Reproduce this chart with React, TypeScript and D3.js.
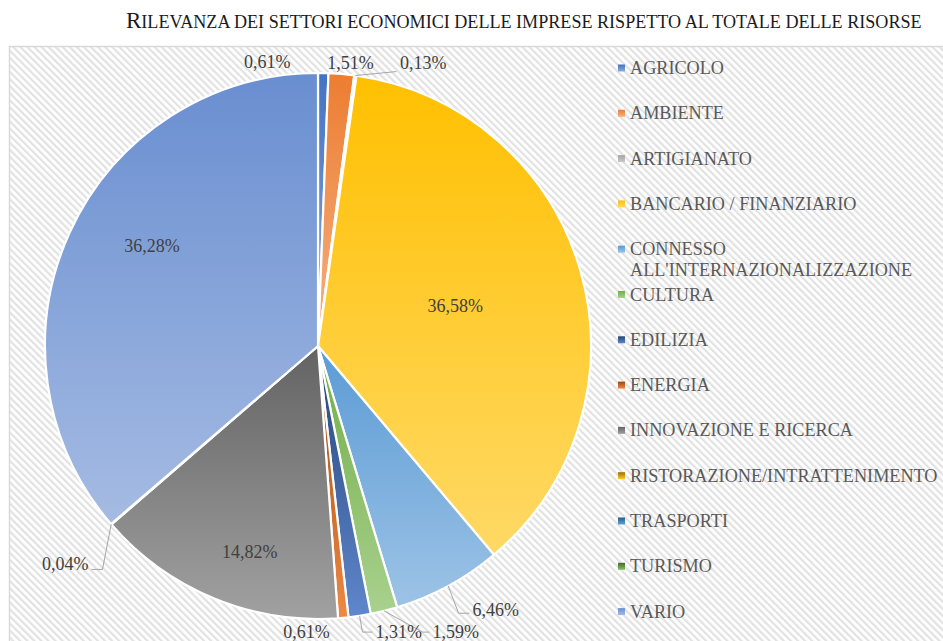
import React, { useRef, useEffect } from "react";
import * as d3 from "d3";

// Settori economici (ordine della legenda = ordine delle fette)
const sectors = [
  "AGRICOLO",
  "AMBIENTE",
  "ARTIGIANATO",
  "BANCARIO / FINANZIARIO",
  "CONNESSO\nALL'INTERNAZIONALIZZAZIONE",
  "CULTURA",
  "EDILIZIA",
  "ENERGIA",
  "INNOVAZIONE E RICERCA",
  "RISTORAZIONE/INTRATTENIMENTO",
  "TRASPORTI",
  "TURISMO",
  "VARIO",
];

// quota percentuale sul totale delle risorse
const shares = [0.61, 1.51, 0.13, 36.58, 6.46, 1.59, 1.31, 0.61, 14.82, 0.04, 0, 0, 36.28];

const colors = [
  "#4472C4", "#ED7D31", "#A5A5A5", "#FFC000", "#5B9BD5", "#70AD47",
  "#264478", "#9E480E", "#636363", "#997300", "#255E91", "#43682B", "#698ED0",
];

const title = "Rilevanza dei settori economici delle imprese rispetto al totale delle risorse";

// posizione delle etichette: "in" = rispetto al centroide, "out" = rispetto al bordo della fetta
type Placement = { at: "in" | "out"; dx: number; dy: number; anchor?: string; leader?: number[][] };
const placements: Placement[] = [
  { at: "out", dx: -56, dy: -11 },
  { at: "out", dx: 9, dy: -11.5 },
  { at: "out", dx: 44.6, dy: -12.6, anchor: "start", leader: [[0, 0], [41, -4]] },
  { at: "in", dx: 6, dy: -3 },
  { at: "out", dx: 24.3, dy: 23.3, anchor: "start", leader: [[0, 0], [10.3, 27.3], [21.3, 27.3]] },
  { at: "out", dx: 48.5, dy: 20.5, anchor: "start", leader: [[0, 0], [38.5, 21.2], [45.5, 21.2]] },
  { at: "out", dx: 15.8, dy: 15.5, anchor: "start", leader: [[0, 0], [2.8, 16.3], [12.8, 16.3]] },
  { at: "out", dx: -36.7, dy: 14 },
  { at: "in", dx: -16, dy: 80 },
  { at: "out", dx: -22.7, dy: 39.7, anchor: "end", leader: [[0, 0], [-8.7, 45.2], [-19.7, 45.2]] },
  { at: "in", dx: 0, dy: 0 },
  { at: "in", dx: 0, dy: 0 },
  { at: "in", dx: -42, dy: -43 },
];

const lighter = (c: string) => {
  const h = d3.hsl(c);
  h.l = h.l + (1 - h.l) * 0.4;
  return h.formatHex();
};

const fmt = (v: number) => v.toFixed(2).replace(".", ",") + "%";

const App = () => {
  const svgRef = useRef<SVGSVGElement>(null);

  useEffect(() => {
    const svg = d3.select(svgRef.current);
    svg.selectAll("*").remove();

    const width = 943;
    const height = 641;
    const cx = 318;
    const cy = 346;
    const radius = 273;
    const font = "'Liberation Serif', 'Times New Roman', serif";

    svg.attr("width", width).attr("height", height);

    const defs = svg.append("defs");

    // tratteggio diagonale dello sfondo
    const pattern = defs
      .append("pattern")
      .attr("id", "hatch")
      .attr("patternUnits", "userSpaceOnUse")
      .attr("width", 5)
      .attr("height", 5)
      .attr("patternTransform", "rotate(-45)");
    pattern.append("rect").attr("width", 5).attr("height", 5).attr("fill", "#ffffff");
    pattern.append("rect").attr("width", 2.2).attr("height", 5).attr("fill", "#e2e2e2");

    colors.forEach((c, i) => {
      const g = defs
        .append("linearGradient")
        .attr("id", `grad${i}`)
        .attr("x1", 0)
        .attr("y1", 0)
        .attr("x2", 0)
        .attr("y2", 1);
      g.append("stop").attr("offset", "0%").attr("stop-color", c);
      g.append("stop").attr("offset", "100%").attr("stop-color", lighter(c));
    });

    svg.append("rect").attr("width", width).attr("height", height).attr("fill", "#ffffff");

    // area del grafico
    svg
      .append("rect")
      .attr("x", 9.5)
      .attr("y", 46.5)
      .attr("width", width + 20)
      .attr("height", height)
      .attr("fill", "url(#hatch)")
      .attr("stroke", "#d9d9d9")
      .attr("stroke-width", 1.5);

    // titolo in maiuscoletto
    const t = svg
      .append("text")
      .attr("x", 126)
      .attr("y", 28)
      .attr("font-family", font)
      .attr("fill", "#1a1a1a");
    t.append("tspan").attr("font-size", 23).text(title[0].toUpperCase());
    t.append("tspan").attr("font-size", 18.1).text(title.slice(1).toUpperCase());

    const pie = d3.pie<number>().sort(null).value(d => d)(shares);
    const arc = d3.arc<d3.PieArcDatum<number>>().innerRadius(0).outerRadius(radius);
    const rim = d3.arc<d3.PieArcDatum<number>>().innerRadius(radius).outerRadius(radius);

    const chart = svg.append("g").attr("transform", `translate(${cx}, ${cy})`);

    chart
      .selectAll("path.slice")
      .data(pie.filter(d => d.value > 0))
      .enter()
      .append("path")
      .attr("class", "slice")
      .attr("d", arc)
      .attr("fill", d => `url(#grad${d.index})`)
      .attr("stroke", "#ffffff")
      .attr("stroke-width", 2.2)
      .attr("stroke-linejoin", "round");

    const labelled = pie.filter(d => d.value > 0);

    // linee guida
    labelled.forEach(d => {
      const p = placements[d.index];
      if (!p.leader) return;
      const [ex, ey] = rim.centroid(d);
      chart
        .append("polyline")
        .attr("points", p.leader.map(([x, y]) => `${ex + x},${ey + y}`).join(" "))
        .attr("fill", "none")
        .attr("stroke", "#a6a6a6")
        .attr("stroke-width", 1);
    });

    chart
      .selectAll("text.pct")
      .data(labelled)
      .enter()
      .append("text")
      .attr("class", "pct")
      .attr("transform", d => {
        const p = placements[d.index];
        const [x, y] = p.at === "in" ? arc.centroid(d) : rim.centroid(d);
        return `translate(${x + p.dx}, ${y + p.dy})`;
      })
      .attr("dy", "0.35em")
      .attr("text-anchor", d => placements[d.index].anchor || "middle")
      .attr("font-family", font)
      .attr("font-size", 18)
      .attr("fill", "#404040")
      .text(d => fmt(d.data));

    // legenda
    const legendY = d3.scalePoint<number>().domain(d3.range(sectors.length)).range([74, 617.6]);

    const items = svg
      .selectAll("g.legend")
      .data(sectors)
      .enter()
      .append("g")
      .attr("class", "legend")
      .attr("transform", (d, i) => `translate(618, ${legendY(i)})`);

    items
      .append("rect")
      .attr("x", 0)
      .attr("y", -9.5)
      .attr("width", 7)
      .attr("height", 7)
      .attr("fill", (d, i) => `url(#grad${i})`);

    items
      .append("text")
      .attr("font-family", font)
      .attr("font-size", 18.2)
      .attr("fill", "#595959")
      .each(function (d) {
        d.split("\n").forEach((line, k) => {
          d3.select(this)
            .append("tspan")
            .attr("x", 12)
            .attr("y", k * 21)
            .text(line);
        });
      });
  }, []);

  return (
    <div style={{ position: "absolute", left: 0, top: 0 }}>
      <svg ref={svgRef} style={{ display: "block" }}></svg>
    </div>
  );
};

export default App;
